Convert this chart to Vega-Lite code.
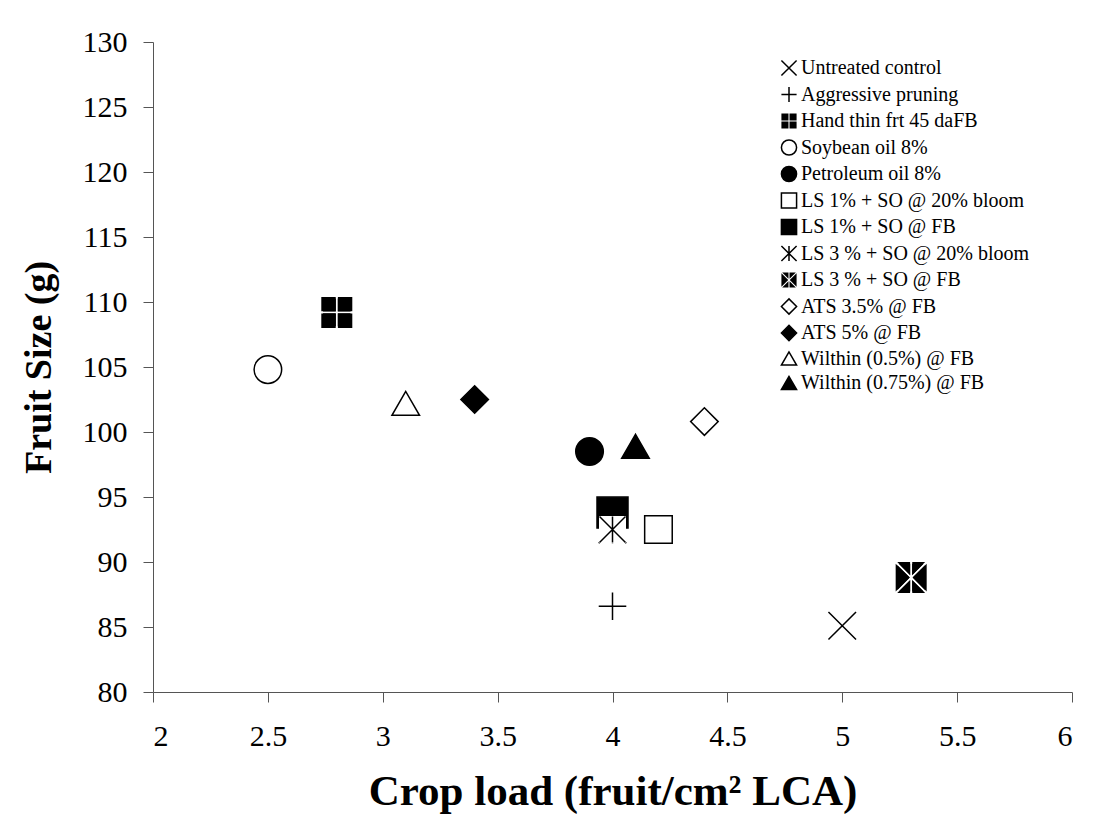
{
  "$schema": "https://vega.github.io/schema/vega-lite/v6.json",
  "width": 919,
  "height": 650,
  "autosize": {"type": "none"},
  "padding": {"left": 153, "top": 42, "right": 24, "bottom": 123},
  "background": "white",
  "config": {
    "view": {"stroke": null},
    "font": "Liberation Serif",
    "axis": {
      "grid": false,
      "domainColor": "#555555",
      "tickColor": "#555555",
      "domainWidth": 1,
      "tickWidth": 1,
      "tickSize": 10,
      "labelFont": "Liberation Serif",
      "labelFontSize": 30,
      "labelColor": "black",
      "titleFont": "Liberation Serif",
      "titleFontWeight": "bold",
      "titleColor": "black"
    },
    "legend": {
      "labelFont": "Liberation Serif",
      "labelFontSize": 20,
      "labelColor": "black",
      "labelLimit": 400,
      "symbolStrokeWidth": 1.5,
      "symbolSize": 230,
      "rowPadding": 4.5,
      "labelOffset": 2,
      "padding": 0
    }
  },
  "datasets": {
    "points": [
      {"treatment": "Untreated control", "crop_load": 5.0, "fruit_size": 85.1},
      {"treatment": "Aggressive pruning", "crop_load": 4.0, "fruit_size": 86.6},
      {"treatment": "Hand thin frt 45 daFB", "crop_load": 2.8, "fruit_size": 109.2},
      {"treatment": "Soybean oil 8%", "crop_load": 2.5, "fruit_size": 104.8},
      {"treatment": "Petroleum oil 8%", "crop_load": 3.9, "fruit_size": 98.5},
      {"treatment": "LS 1% + SO @ 20% bloom", "crop_load": 4.2, "fruit_size": 92.5},
      {"treatment": "LS 1% + SO @ FB", "crop_load": 4.0, "fruit_size": 93.8},
      {"treatment": "LS 3 % + SO @ 20% bloom", "crop_load": 4.0, "fruit_size": 92.5},
      {"treatment": "LS 3 % + SO @ FB", "crop_load": 5.3, "fruit_size": 88.8},
      {"treatment": "ATS 3.5% @ FB", "crop_load": 4.4, "fruit_size": 100.8},
      {"treatment": "ATS 5% @ FB", "crop_load": 3.4, "fruit_size": 102.5},
      {"treatment": "Wilthin (0.5%) @ FB", "crop_load": 3.1, "fruit_size": 102.2},
      {"treatment": "Wilthin (0.75%) @ FB", "crop_load": 4.1, "fruit_size": 98.9}
    ]
  },
  "data": {"name": "points"},
  "encoding": {
    "x": {
      "field": "crop_load", "type": "quantitative",
      "scale": {"domain": [2, 6], "nice": false, "zero": false},
      "axis": {"values": [2, 2.5, 3, 3.5, 4, 4.5, 5, 5.5, 6], "format": "~g", "labelPadding": 19, "title": "Crop load (fruit/cm² LCA)", "titleFontSize": 43, "titlePadding": 19}
    },
    "y": {
      "field": "fruit_size", "type": "quantitative",
      "scale": {"domain": [80, 130], "nice": false, "zero": false},
      "axis": {"values": [80, 85, 90, 95, 100, 105, 110, 115, 120, 125, 130], "labelPadding": 16, "title": "Fruit Size (g)", "titleFontSize": 38, "titlePadding": 24}
    }
  },
  "layer": [
    {
      "mark": {"type": "point", "opacity": 1, "strokeWidth": 1.5, "size": 760},
      "encoding": {
        "shape": {
          "field": "treatment", "type": "nominal",
          "scale": {
            "domain": ["Untreated control", "Aggressive pruning", "Hand thin frt 45 daFB", "Soybean oil 8%", "Petroleum oil 8%", "LS 1% + SO @ 20% bloom", "LS 1% + SO @ FB", "LS 3 % + SO @ 20% bloom", "LS 3 % + SO @ FB", "ATS 3.5% @ FB", "ATS 5% @ FB", "Wilthin (0.5%) @ FB", "Wilthin (0.75%) @ FB"],
            "range": [
              "M-1,-1L1,1M1,-1L-1,1",
              "M-1,0L1,0M0,-1L0,1",
              "M-1,-1H-0.07V-0.07H-1Z M0.07,-1H1V-0.07H0.07Z M-1,0.07H-0.07V1H-1Z M0.07,0.07H1V1H0.07Z",
              "circle",
              "circle",
              "square",
              "square",
              "M-1,-1L1,1M1,-1L-1,1M0,-1L0,1",
              "M-1,-0.9L-0.1,0L-1,0.9Z M1,-0.9L0.1,0L1,0.9Z M-0.9,-1L-0.07,-1L-0.07,-0.17Z M0.9,-1L0.07,-1L0.07,-0.17Z M-0.9,1L-0.07,1L-0.07,0.17Z M0.9,1L0.07,1L0.07,0.17Z",
              "diamond",
              "diamond",
              "triangle-up",
              "triangle-up"
            ]
          },
          "legend": {"title": null, "orient": "none", "legendX": 626, "legendY": 16}
        },
        "fill": {
          "field": "treatment", "type": "nominal",
          "scale": {
            "domain": ["Untreated control", "Aggressive pruning", "Hand thin frt 45 daFB", "Soybean oil 8%", "Petroleum oil 8%", "LS 1% + SO @ 20% bloom", "LS 1% + SO @ FB", "LS 3 % + SO @ 20% bloom", "LS 3 % + SO @ FB", "ATS 3.5% @ FB", "ATS 5% @ FB", "Wilthin (0.5%) @ FB", "Wilthin (0.75%) @ FB"],
            "range": ["white", "white", "black", "white", "black", "white", "black", "white", "black", "white", "black", "white", "black"]
          },
          "legend": {"title": null, "orient": "none", "legendX": 626, "legendY": 16}
        },
        "stroke": {
          "field": "treatment", "type": "nominal",
          "scale": {
            "domain": ["Untreated control", "Aggressive pruning", "Hand thin frt 45 daFB", "Soybean oil 8%", "Petroleum oil 8%", "LS 1% + SO @ 20% bloom", "LS 1% + SO @ FB", "LS 3 % + SO @ 20% bloom", "LS 3 % + SO @ FB", "ATS 3.5% @ FB", "ATS 5% @ FB", "Wilthin (0.5%) @ FB", "Wilthin (0.75%) @ FB"],
            "range": ["black", "black", "transparent", "black", "black", "black", "black", "black", "transparent", "black", "black", "black", "black"]
          },
          "legend": {"title": null, "orient": "none", "legendX": 626, "legendY": 16}
        }
      }
    },
    {
      "transform": [{"filter": {"field": "treatment", "oneOf": ["Hand thin frt 45 daFB", "LS 1% + SO @ FB", "LS 3 % + SO @ FB"]}}],
      "mark": {"type": "point", "opacity": 1, "strokeWidth": 1.5, "size": 961},
      "encoding": {
        "shape": {"field": "treatment", "type": "nominal"},
        "fill": {"field": "treatment", "type": "nominal"},
        "stroke": {"field": "treatment", "type": "nominal"}
      }
    },
    {
      "transform": [{"filter": "datum.treatment === 'LS 3 % + SO @ 20% bloom'"}],
      "mark": {"type": "point", "shape": "square", "filled": true, "color": "white", "opacity": 1, "size": 729}
    },
    {
      "transform": [{"filter": "datum.treatment === 'LS 3 % + SO @ 20% bloom'"}],
      "mark": {"type": "point", "shape": "M-1,-1L1,1M1,-1L-1,1M0,-1L0,1", "filled": false, "stroke": "black", "strokeWidth": 1.5, "opacity": 1, "size": 676}
    }
  ]
}
